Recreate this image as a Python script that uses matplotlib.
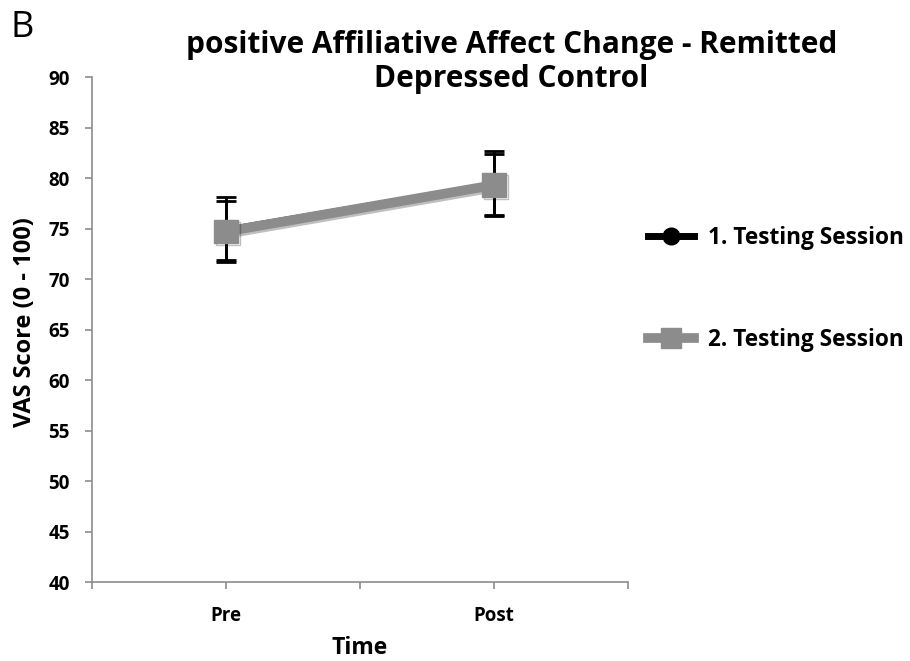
import matplotlib.pyplot as plt
import matplotlib.patheffects as pe
from matplotlib.lines import Line2D

# дані з графіка
categories = ['Pre', 'Post']
session1 = [75.0, 79.5]
session1_err = [3.1, 3.2]
session2 = [74.7, 79.3]
session2_err = [3.0, 3.1]
y_ticks = [40, 45, 50, 55, 60, 65, 70, 75, 80, 85, 90]

plt.rcParams['font.family'] = ['Open Sans', 'DejaVu Sans']

fig = plt.figure(figsize=(9.1, 6.61), dpi=100)
ax = fig.add_axes([0.101, 0.1195, 0.589, 0.7640])

x = list(range(len(categories)))

# 1. сесія - чорна лінія з колами
ax.errorbar(x, session1, yerr=session1_err, color='black', lw=2.5,
            marker='o', ms=12, capsize=7, capthick=2, elinewidth=2, zorder=3)
# 2. сесія - сіра товста лінія з квадратами
ax.errorbar(x, session2, yerr=session2_err, color='black', fmt='none',
            capsize=7, capthick=2, elinewidth=2, zorder=3)
shadow = [pe.SimpleLineShadow(offset=(1.5, -1.5), alpha=0.25), pe.Normal()]
ax.plot(x, session2, color='#8c8c8c', lw=7, marker='s', ms=17,
        zorder=4, path_effects=shadow)

ax.set_xlim(-0.5, 1.5)
ax.set_ylim(40, 90)
ax.set_yticks(y_ticks)
ax.set_xticks([-0.5, 0, 0.5, 1, 1.5])
ax.set_xticklabels(['', 'Pre', '', 'Post', ''])

for s in ['top', 'right']:
    ax.spines[s].set_visible(False)
for s in ['left', 'bottom']:
    ax.spines[s].set_color('#8c8c8c')
    ax.spines[s].set_linewidth(1.2)
ax.tick_params(axis='both', colors='#8c8c8c', length=5, width=1.2)
ax.tick_params(axis='y', labelcolor='black', labelsize=13.5, pad=11)
ax.tick_params(axis='x', labelcolor='black', labelsize=13.5, pad=12)
for lbl in ax.get_xticklabels() + ax.get_yticklabels():
    lbl.set_fontweight('bold')

ax.set_ylabel('VAS Score (0 - 100)', fontsize=17, fontweight='bold', va='center')
ax.yaxis.set_label_coords(-0.125, 0.515)
ax.set_xlabel('Time', fontsize=16.5, fontweight='bold', va='center')
ax.xaxis.set_label_coords(0.5, -0.13)

fig.text(0.562, 0.906, 'positive Affiliative Affect Change - Remitted\nDepressed Control',
         ha='center', va='center', fontsize=21.5, fontweight='bold', linespacing=1.2)
fig.text(0.012, 0.958, 'B', fontsize=26, va='center')

# легенда без планок похибок
handles = [Line2D([], [], color='black', lw=5, marker='o', ms=12),
           Line2D([], [], color='#8c8c8c', lw=7, marker='s', ms=14)]
labels = ['1. Testing Session', '2. Testing Session']
leg = ax.legend(handles, labels, loc='upper left', bbox_to_anchor=(1.0, 0.745),
                frameon=False, prop={'weight': 'bold', 'size': 16.3},
                labelspacing=3.45, handlelength=2.0, handletextpad=0.65)

fig.savefig('out.png', dpi=100)
